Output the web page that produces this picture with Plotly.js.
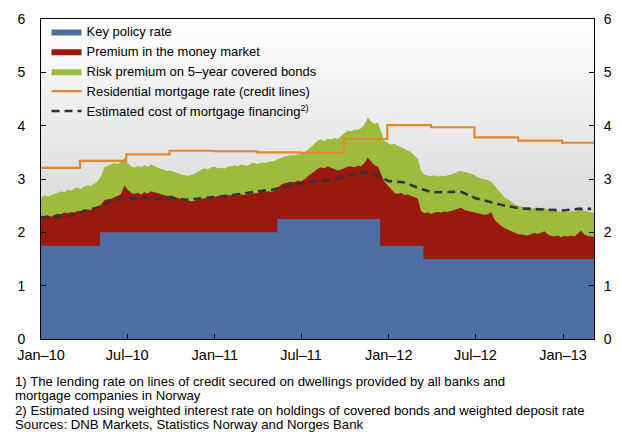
<!DOCTYPE html>
<html>
<head>
<meta charset="utf-8">
<script src="https://cdn.plot.ly/plotly-3.0.1.min.js"></script>
<style>
html,body{margin:0;padding:0;background:#fff;}
#chart{width:622px;height:435px;}
</style>
</head>
<body>
<div id="chart"></div>
<script>
// ---------- DATA ----------
// Weekly series start date (one observation each 7 days)
const weeklyStart = '2010-01-01';
// Key policy rate + premium in the money market (top of red area), weekly
const moneyMarketLevel = [
2.31,2.30,2.32,2.29,2.33,2.35,2.34,2.37,2.36,2.38,
2.37,2.40,2.39,2.41,2.43,2.42,2.45,2.47,2.52,2.60,
2.62,2.63,2.66,2.68,2.72,2.88,2.80,2.74,2.72,2.74,
2.71,2.75,2.73,2.77,2.75,2.73,2.71,2.70,2.68,2.69,
2.66,2.65,2.62,2.61,2.59,2.58,2.59,2.61,2.63,2.64,
2.65,2.67,2.66,2.68,2.67,2.68,2.69,2.70,2.71,2.69,
2.71,2.70,2.72,2.73,2.73,2.75,2.76,2.75,2.77,2.76,
2.78,2.84,2.89,2.92,2.93,2.95,2.94,2.97,2.96,2.99,
3.05,3.09,3.14,3.19,3.22,3.20,3.24,3.21,3.19,3.16,
3.18,3.21,3.23,3.24,3.22,3.25,3.24,3.30,3.40,3.33,
3.26,3.24,3.10,2.95,2.88,2.80,2.74,2.72,2.74,2.70,
2.71,2.68,2.66,2.64,2.40,2.36,2.37,2.35,2.37,2.38,
2.37,2.39,2.38,2.40,2.41,2.44,2.46,2.42,2.40,2.39,
2.37,2.36,2.35,2.33,2.34,2.38,2.24,2.17,2.12,2.08,
2.05,2.02,1.99,1.97,1.96,1.95,1.94,1.97,1.99,1.97,
2.00,2.02,1.96,1.93,1.92,1.94,1.91,1.93,1.92,1.94,
1.92,1.97,2.03,1.96,1.93,1.92,1.91
];
// + risk premium on 5-year covered bonds (top of green area), weekly
const coveredBondLevel = [
2.66,2.69,2.67,2.70,2.72,2.74,2.77,2.75,2.80,2.78,
2.82,2.84,2.81,2.86,2.88,2.87,2.92,2.96,3.05,3.22,
3.25,3.27,3.30,3.28,3.33,3.40,3.30,3.24,3.21,3.25,
3.22,3.26,3.23,3.27,3.25,3.21,3.19,3.17,3.15,3.16,
3.13,3.11,3.09,3.08,3.06,3.08,3.10,3.14,3.17,3.20,
3.18,3.22,3.23,3.20,3.21,3.19,3.23,3.25,3.26,3.24,
3.27,3.26,3.25,3.29,3.30,3.28,3.31,3.30,3.32,3.33,
3.34,3.37,3.40,3.42,3.43,3.45,3.44,3.47,3.46,3.49,
3.55,3.60,3.66,3.72,3.74,3.71,3.76,3.74,3.77,3.75,
3.80,3.86,3.91,3.89,3.93,3.92,3.95,4.02,4.15,4.08,
4.03,4.06,3.88,3.72,3.68,3.64,3.66,3.62,3.60,3.57,
3.54,3.50,3.44,3.38,3.15,3.08,3.06,3.05,3.07,3.04,
3.06,3.05,3.07,3.09,3.10,3.14,3.15,3.13,3.12,3.10,
3.07,3.03,3.01,3.00,2.98,2.95,2.88,2.80,2.73,2.66,
2.62,2.57,2.53,2.50,2.48,2.46,2.45,2.44,2.46,2.44,
2.45,2.46,2.43,2.40,2.39,2.40,2.38,2.39,2.37,2.40,
2.39,2.41,2.43,2.40,2.38,2.37,2.36
];
// Key policy rate (step changes)
const policyDates = ['2010-01-01','2010-05-05','2011-05-12','2011-12-14','2012-03-14','2013-03-07'];
const policyRate  = [1.75, 2.00, 2.25, 1.75, 1.50, 1.50];
// Residential mortgage rate (credit lines), quarterly steps
const mortgageDates = ['2010-01-01','2010-03-24','2010-06-29','2010-09-28','2010-12-30','2011-03-30','2011-06-29','2011-09-29','2011-12-29','2012-03-30','2012-06-29','2012-09-29','2012-12-30','2013-03-07'];
const mortgageRate  = [3.21, 3.34, 3.46, 3.53, 3.52, 3.50, 3.49, 3.75, 4.01, 3.97, 3.78, 3.72, 3.68, 3.68];
// Estimated cost of mortgage financing, monthly
const costDates = ['2010-01-01','2010-02-01','2010-03-01','2010-04-01','2010-05-01','2010-06-01','2010-07-01','2010-08-01','2010-09-01','2010-10-01','2010-11-01','2010-12-01',
'2011-01-01','2011-02-01','2011-03-01','2011-04-01','2011-05-01','2011-06-01','2011-07-01','2011-08-01','2011-09-01','2011-10-01','2011-11-01','2011-12-01',
'2012-01-01','2012-02-01','2012-03-01','2012-04-01','2012-05-01','2012-06-01','2012-07-01','2012-08-01','2012-09-01','2012-10-01','2012-11-01','2012-12-01',
'2013-01-01','2013-02-01','2013-03-01'];
const costValues = [2.28,2.29,2.30,2.40,2.47,2.60,2.63,2.65,2.62,2.65,2.61,2.63,
2.66,2.69,2.73,2.77,2.80,2.86,2.92,2.96,2.98,3.04,3.13,3.10,
2.96,2.94,2.84,2.75,2.75,2.76,2.64,2.57,2.50,2.45,2.44,2.42,
2.41,2.44,2.44];
// Axis ticks
const xTickVals = ['2010-01-01','2010-07-01','2011-01-01','2011-07-01','2012-01-01','2012-07-01','2013-01-01'];
const xTickText = ['Jan–10','Jul–10','Jan–11','Jul–11','Jan–12','Jul–12','Jan–13'];
const yTickVals = [0,1,2,3,4,5,6];
// Legend names
const names = ['Key policy rate','Premium in the money market','Risk premium on 5–year covered bonds','Residential mortgage rate (credit lines)','Estimated cost of mortgage financing<sup>2)</sup>'];
const footnotes = [
'1) The lending rate on lines of credit secured on dwellings provided by all banks and',
'mortgage companies in Norway',
'2) Estimated using weighted interest rate on holdings of covered bonds and weighted deposit rate',
'Sources: DNB Markets, Statistics Norway and Norges Bank'
];

// ---------- BUILD ----------
const start = Date.parse(weeklyStart + 'T00:00:00Z');
const weeklyDates = moneyMarketLevel.map((_, i) => new Date(start + i*7*86400000).toISOString().slice(0,10));

const colBlue = '#4c6ea3', colRed = '#9b180e', colGreen = '#9dbb3d', colOrange = '#e3892b', colDash = '#333333';

const traces = [
  {x: weeklyDates, y: coveredBondLevel, type:'scatter', mode:'lines', fill:'tozeroy',
   fillcolor: colGreen, line:{width:0, color: colGreen}, name: names[2], legendrank: 3, hoverinfo:'skip'},
  {x: weeklyDates, y: moneyMarketLevel, type:'scatter', mode:'lines', fill:'tozeroy',
   fillcolor: colRed, line:{width:0, color: colRed}, name: names[1], legendrank: 2, hoverinfo:'skip'},
  {x: policyDates, y: policyRate, type:'scatter', mode:'lines', fill:'tozeroy',
   fillcolor: colBlue, line:{width:0, color: colBlue, shape:'hv'}, name: names[0], legendrank: 1, hoverinfo:'skip'},
  {x: mortgageDates, y: mortgageRate, type:'scatter', mode:'lines',
   line:{width:2.2, color: colOrange, shape:'hv'}, name: names[3], legendrank: 4},
  {x: costDates, y: costValues, type:'scatter', mode:'lines',
   line:{width:2.6, color: colDash, dash:'8px,5px'}, name: names[4], legendrank: 5},
  {x: [xTickVals[0]], y: [0], yaxis:'y2', type:'scatter', mode:'markers', marker:{opacity:0}, showlegend:false, hoverinfo:'skip'}
];

const gradSvg = "<svg xmlns='http://www.w3.org/2000/svg' width='10' height='100' preserveAspectRatio='none'><defs><linearGradient id='g' x1='0' y1='0' x2='0' y2='1'><stop offset='0' stop-color='#ffffff'/><stop offset='1' stop-color='#c2c2c2'/></linearGradient></defs><rect width='10' height='100' fill='url(#g)'/></svg>";
const gradUri = 'data:image/svg+xml;base64,' + btoa(gradSvg);

const fontFam = '"Liberation Sans", Arial, Helvetica, sans-serif';

const layout = {
  width: 622, height: 435,
  margin: {l:41, r:28, t:19, b:96},
  paper_bgcolor: '#ffffff',
  plot_bgcolor: 'rgba(0,0,0,0)',
  font: {family: fontFam, size: 14, color: '#000'},
  showlegend: true,
  legend: {x: 0.01, y: 1.008, xanchor:'left', yanchor:'top', bgcolor:'rgba(0,0,0,0)',
           font:{size:13, family: fontFam, color:'#000'}, traceorder:'normal', tracegroupgap:0},
  xaxis: {type:'date', range:['2010-01-01','2013-03-07'], tickvals: xTickVals, ticktext: xTickText,
          ticks:'inside', ticklen:5, tickcolor:'#000', showgrid:false, zeroline:false,
          showline:true, linecolor:'#000', linewidth:1, mirror:true, tickfont:{size:14.5},
          ticklabelstandoff: 3},
  yaxis: {range:[0,6], tickvals: yTickVals, ticks:'inside', ticklen:5, tickcolor:'#000',
          showgrid:false, zeroline:false, showline:true, linecolor:'#000', linewidth:1,
          ticklabelstandoff: 12, tickfont:{size:14}, fixedrange:true},
  yaxis2: {range:[0,6], tickvals: yTickVals, ticks:'inside', ticklen:5, tickcolor:'#000',
           overlaying:'y', side:'right', showgrid:false, zeroline:false, showline:true,
           linecolor:'#000', linewidth:1, ticklabelstandoff: 6, tickfont:{size:14}},
  images: [{source: gradUri, xref:'paper', yref:'paper', x:0, y:1, sizex:1, sizey:1,
            sizing:'stretch', layer:'below', xanchor:'left', yanchor:'top'}],
  annotations: footnotes.map((t, i) => ({
    text: t, xref:'paper', yref:'paper', x: -0.05, y: 0, xanchor:'left', yanchor:'middle',
    yshift: -42 - i*14.5, showarrow:false, font:{size:13.2, family: fontFam, color:'#000'}, align:'left'
  }))
};

Plotly.newPlot('chart', traces, layout, {displayModeBar:false, staticPlot:true});
</script>
</body>
</html>
